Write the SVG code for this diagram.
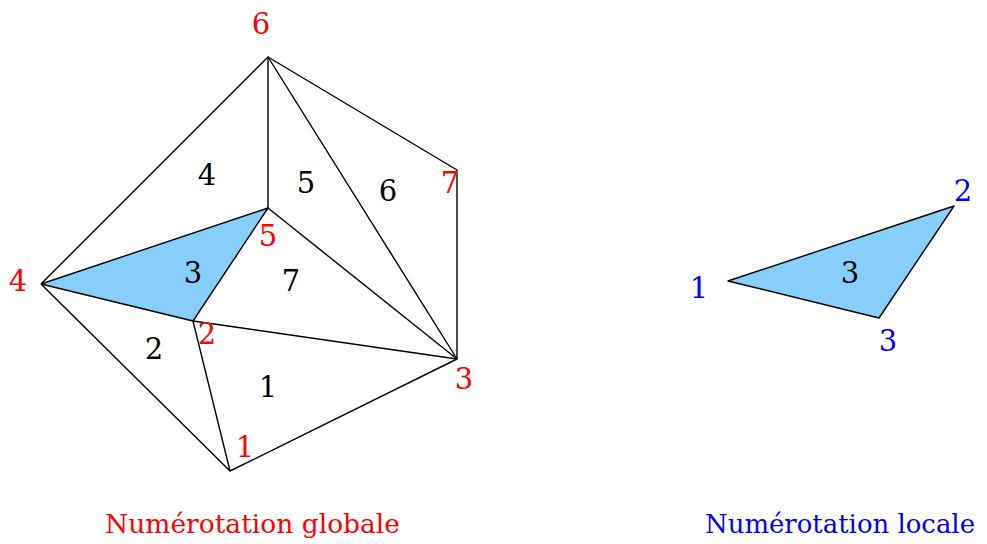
<svg xmlns="http://www.w3.org/2000/svg" width="987" height="544" viewBox="0 0 987 544">
<style>
  .edge { stroke: #000; stroke-width: 1.4; fill: none; stroke-linejoin: round; }
  .fill { fill: #87CEFA; stroke: none; }
  .t text { text-anchor: middle; }
  .g { fill: #FF0000; }
  .l { fill: #0000FF; }
  .e { fill: #000; }
  .cap { font-size: 26px; }
</style>
<rect width="987" height="544" fill="#fff"/>
<g id="shaded">
  <polygon class="fill" points="41,284 268,208 193,321"/>
  <polygon class="fill" points="728,281 954,206 879,318"/>
</g>
<g id="connectors">
  <polyline class="edge" points="41,284 268,57 268,208"/>
  <polyline class="edge" points="268,57 457,359"/>
  <polyline class="edge" points="268,57 457,170 457,359"/>
  <polyline class="edge" points="41,284 268,208 193,321 41,284"/>
  <polyline class="edge" points="41,284 230,471 457,359 193,321 230,471"/>
  <polyline class="edge" points="268,208 457,359"/>
  <polygon class="edge" points="728,281 954,206 879,318"/>
</g>
<g class="t" font-family="'DejaVu Serif', serif" font-size="29">
<g id="elements">
  <text class="e" x="207" y="185">4</text>
  <text class="e" x="306" y="193">5</text>
  <text class="e" x="388" y="201">6</text>
  <text class="e" x="193" y="283">3</text>
  <text class="e" x="291" y="291">7</text>
  <text class="e" x="154" y="359">2</text>
  <text class="e" x="268" y="397">1</text>
  <text class="e" x="850" y="283">3</text>
</g>
<g id="global-nodes">
  <text class="g" x="261" y="34">6</text>
  <text class="g" x="450" y="193">7</text>
  <text class="g" x="268" y="246">5</text>
  <text class="g" x="18" y="291">4</text>
  <text class="g" x="207" y="344">2</text>
  <text class="g" x="464" y="389">3</text>
  <text class="g" x="245" y="457">1</text>
</g>
<g id="local-nodes">
  <text class="l" x="699" y="298">1</text>
  <text class="l" x="963" y="201">2</text>
  <text class="l" x="888" y="351">3</text>
</g>
<g id="captions">
  <text class="g cap" x="252.5" y="533" textLength="295" lengthAdjust="spacingAndGlyphs">Numérotation globale</text>
  <text class="l cap" x="840" y="533" textLength="270" lengthAdjust="spacingAndGlyphs">Numérotation locale</text>
</g>
</g>
</svg>
